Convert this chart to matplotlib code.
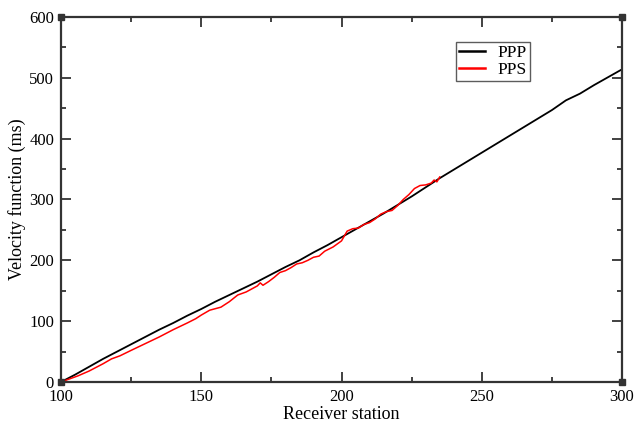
import matplotlib
matplotlib.use('Agg')
import matplotlib.pyplot as plt
from matplotlib.ticker import MultipleLocator

plt.rcParams['font.family'] = ['Liberation Serif', 'DejaVu Serif']

# PPP velocity function (black)
ppp_x = [100, 105, 110, 115, 120, 125, 130, 135, 140, 145, 150, 155, 160, 165, 170,
         175, 180, 185, 190, 195, 200, 205, 210, 215, 220, 225, 230, 235, 240, 245,
         250, 255, 260, 265, 270, 275, 280, 285, 290, 295, 300]
ppp_y = [0, 12, 25, 38, 50, 62, 74, 86, 97, 109, 120, 132, 143, 154, 165,
         177, 189, 200, 213, 225, 238, 251, 264, 277, 291, 305, 320, 335, 349, 363,
         377, 391, 405, 419, 433, 447, 463, 474, 488, 501, 514]

# PPS velocity function (red)
pps_x = [100, 103, 106, 110, 115, 118, 121, 125, 130, 135, 140, 145, 148, 150, 153,
         157, 160, 163, 166, 168, 170, 171, 172, 174, 176, 178, 180, 182, 184, 186,
         188, 190, 192, 194, 197, 200, 202, 204, 206, 208, 210, 212, 214, 216, 218,
         220, 222, 224, 226, 228, 230, 232, 233, 234, 235]
pps_y = [0, 5, 10, 18, 30, 38, 43, 52, 63, 74, 86, 97, 104, 110, 118,
         123, 132, 143, 148, 153, 158, 163, 159, 165, 172, 180, 183, 188, 194, 196,
         200, 205, 207, 215, 222, 232, 248, 252, 253, 259, 262, 268, 276, 280, 282,
         290, 300, 308, 318, 323, 324, 327, 332, 329, 337]

fig = plt.figure(figsize=(6.37, 4.25), dpi=100)
ax = fig.add_axes([0.0958, 0.1012, 0.8807, 0.8588])

ax.plot(ppp_x, ppp_y, color='black', lw=1.3, label='PPP')
ax.plot(pps_x, pps_y, color='#ff0000', lw=1.1, label='PPS')

ax.set_xlim(100, 300)
ax.set_ylim(0, 600)
ax.xaxis.set_major_locator(MultipleLocator(50))
ax.xaxis.set_minor_locator(MultipleLocator(25))
ax.yaxis.set_major_locator(MultipleLocator(100))
ax.yaxis.set_minor_locator(MultipleLocator(50))
ax.tick_params(which='both', direction='in', top=True, right=True, width=1.3,
               color='#333333', labelsize=12)
ax.tick_params(axis='x', pad=5)
ax.tick_params(axis='y', pad=5)
ax.tick_params(which='major', length=7.5)
ax.tick_params(which='minor', length=3.5)
for s in ax.spines.values():
    s.set_linewidth(1.6)
    s.set_color('#333333')

# little squares at the frame corners
ax.plot([0, 1, 0, 1], [0, 0, 1, 1], 's', color='#333333', ms=4,
        transform=ax.transAxes, clip_on=False)

ax.set_xlabel('Receiver station', fontsize=13, labelpad=1)
ax.set_ylabel('Velocity function (ms)', fontsize=13, labelpad=2)

leg = ax.legend(loc='upper left', bbox_to_anchor=(0.704, 0.932), fontsize=12.5,
                frameon=True, fancybox=False, handlelength=1.5, borderpad=0.2,
                labelspacing=0.0, handletextpad=0.7, borderaxespad=0)
leg.get_frame().set_edgecolor('#333333')
leg.get_frame().set_linewidth(1.0)
for h in leg.get_lines():
    h.set_linewidth(1.8)

fig.savefig('out.png', dpi=100)
